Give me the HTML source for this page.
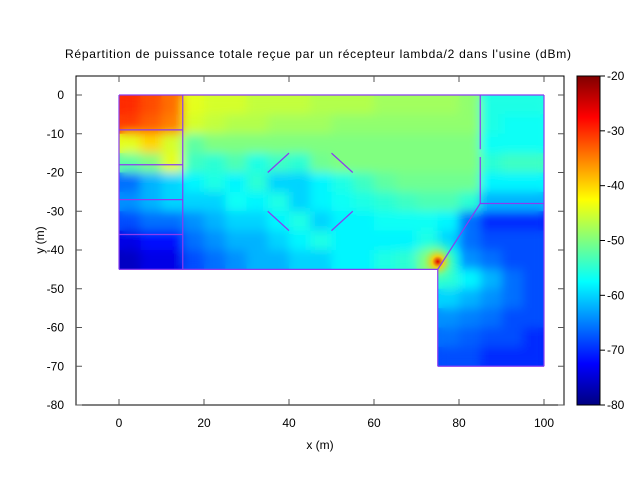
<!DOCTYPE html>
<html><head><meta charset="utf-8"><style>
body{margin:0;background:#fff;width:640px;height:480px;overflow:hidden;font-family:"Liberation Sans",sans-serif}
</style></head><body>
<svg id="chart" width="640" height="480" viewBox="0 0 640 480" xmlns="http://www.w3.org/2000/svg" font-family="Liberation Sans, sans-serif">
<defs>
<filter id="blur" x="-5%" y="-5%" width="110%" height="110%"><feGaussianBlur stdDeviation="5"/></filter>
<clipPath id="floor"><polygon id="floorPoly" points=""/></clipPath>
<linearGradient id="jet" x1="0" y1="1" x2="0" y2="0">
<stop offset="0" stop-color="#000080"/><stop offset="0.125" stop-color="#0000ff"/><stop offset="0.375" stop-color="#00ffff"/><stop offset="0.625" stop-color="#ffff00"/><stop offset="0.875" stop-color="#ff0000"/><stop offset="1" stop-color="#800000"/>
</linearGradient>
<radialGradient id="hot"><stop offset="0" stop-color="#e00000" stop-opacity="1"/><stop offset="0.2" stop-color="#ffcc00" stop-opacity="0.9"/><stop offset="0.5" stop-color="#80ff80" stop-opacity="0.5"/><stop offset="1" stop-color="#00ffff" stop-opacity="0"/></radialGradient>
</defs>
<text x="318" y="58" font-size="12" text-anchor="middle" textLength="506" lengthAdjust="spacing">Répartition de puissance totale reçue par un récepteur lambda/2 dans l'usine (dBm)</text>
<g id="cells-sharp" clip-path="url(#floor)"></g>
<g clip-path="url(#floor)"><g id="cells-blur" filter="url(#blur)"></g><circle id="hotspot" r="28" fill="url(#hot)"/></g>
<g id="walls" stroke="#8a3cf0" stroke-width="1.2" fill="none"></g>
<rect x="76" y="76" width="488" height="329" fill="none" stroke="#000" stroke-width="1"/>
<g id="axes" font-size="12"></g>
<text x="320" y="449" font-size="12" text-anchor="middle">x (m)</text>
<text transform="translate(44,240) rotate(-90)" font-size="12" text-anchor="middle">y (m)</text>
<rect x="577" y="76" width="23" height="329" fill="url(#jet)" stroke="#000" stroke-width="1"/>
<g id="cbar" font-size="12"></g>
</svg>
<script>
const xTicks=[0,20,40,60,80,100];
const yTicks=[0,-10,-20,-30,-40,-50,-60,-70,-80];
const cbTicks=[-20,-30,-40,-50,-60,-70,-80];
const cbMin=-80, cbMax=-20;
const gridStep=5;
const gridRows=[
[-30,-32,-34,-44,-45,-45,-46,-46,-46,-47,-47,-47,-48,-48,-48,-48,-49,-56,-56,-56],
[-31,-33,-35,-45,-46,-47,-47,-48,-48,-48,-49,-49,-49,-49,-49,-49,-49,-56,-57,-57],
[-44,-40,-45,-52,-50,-50,-50,-50,-50,-50,-50,-50,-50,-50,-50,-50,-50,-57,-57,-57],
[-52,-50,-44,-54,-55,-53,-56,-54,-55,-51,-50,-50,-50,-50,-50,-50,-50,-55,-54,-54],
[-66,-62,-60,-58,-56,-58,-55,-60,-60,-58,-56,-54,-52,-51,-51,-51,-51,-58,-58,-58],
[-64,-62,-60,-60,-60,-57,-58,-56,-60,-58,-57,-56,-55,-54,-53,-53,-55,-62,-62,-62],
[-68,-66,-66,-64,-62,-60,-60,-58,-56,-60,-58,-58,-57,-57,-57,-58,-66,-70,-70,-70],
[-74,-72,-72,-66,-64,-62,-62,-60,-58,-56,-58,-58,-58,-58,-56,-60,-66,-68,-68,-68],
[-76,-74,-74,-68,-66,-64,-62,-62,-60,-60,-58,-58,-56,-55,-50,-58,-64,-66,-68,-68],
[null,null,null,null,null,null,null,null,null,null,null,null,null,null,null,-55,-58,-62,-66,-68],
[null,null,null,null,null,null,null,null,null,null,null,null,null,null,null,-60,-62,-64,-66,-68],
[null,null,null,null,null,null,null,null,null,null,null,null,null,null,null,-64,-65,-66,-68,-68],
[null,null,null,null,null,null,null,null,null,null,null,null,null,null,null,-66,-67,-68,-68,-70],
[null,null,null,null,null,null,null,null,null,null,null,null,null,null,null,-68,-68,-70,-70,-70]];
const outline=[[0,0],[100,0],[100,-70],[75,-70],[75,-45],[0,-45]];
const wallSegs=[[0,0,100,0],[100,0,100,-70],[100,-70,75,-70],[75,-70,75,-45],[75,-45,0,-45],[0,-45,0,0],
[15,0,15,-45],[85,0,85,-14],[85,-16,85,-28],[85,-28,75,-45],[85,-28,100,-28],
[0,-9,15,-9],[0,-18,15,-18],[0,-27,15,-27],[0,-36,15,-36],
[35,-20,40,-15],[50,-15,55,-20],[35,-30,40,-35],[50,-35,55,-30]];
const hotspotPos=[75,-43];

const X=v=>119+v*4.25, Y=v=>95-v*3.875;
const NS="http://www.w3.org/2000/svg";
function mk(t,a,p){const e=document.createElementNS(NS,t);for(const k in a)e.setAttribute(k,a[k]);p.appendChild(e);return e;}
function jet(v){let t=(v-cbMin)/(cbMax-cbMin);t=Math.max(0,Math.min(1,t));
 const c=x=>Math.round(255*Math.max(0,Math.min(1,1.5-Math.abs(x))));
 return `rgb(${c(4*t-3)},${c(4*t-2)},${c(4*t-1)})`;}
document.getElementById('floorPoly').setAttribute('points',outline.map(p=>X(p[0])+','+Y(p[1])).join(' '));
const sharp=document.getElementById('cells-sharp'), blur=document.getElementById('cells-blur');
gridRows.forEach((row,ri)=>row.forEach((v,ci)=>{ if(v===null)return;
 const a={x:X(ci*gridStep),y:Y(-ri*gridStep),width:gridStep*4.25+0.5,height:gridStep*3.875+0.5,fill:jet(v)};
 const r1=mk('rect',a,sharp);
 
 
 const r2=mk('rect',a,blur);
 
 
}));
const hs=document.getElementById('hotspot');hs.setAttribute('cx',X(hotspotPos[0]));hs.setAttribute('cy',Y(hotspotPos[1]));
const walls=document.getElementById('walls');
wallSegs.forEach(s=>{const l=mk('line',{x1:X(s[0]),y1:Y(s[1]),x2:X(s[2]),y2:Y(s[3])},walls);
 
 });
const ax=document.getElementById('axes');
xTicks.forEach(t=>{const x=X(t);
 const a=mk('line',{x1:x,y1:405,x2:x,y2:399,stroke:'#555'},ax);
 const b=mk('line',{x1:x,y1:76,x2:x,y2:82,stroke:'#555'},ax);
 const tx=mk('text',{x:x,y:427,'text-anchor':'middle'},ax);tx.textContent=t;});
yTicks.forEach(t=>{const y=Y(t);
 const a=mk('line',{x1:76,y1:y,x2:82,y2:y,stroke:'#555'},ax);
 const b=mk('line',{x1:564,y1:y,x2:558,y2:y,stroke:'#555'},ax);
 const tx=mk('text',{x:64,y:y+4,'text-anchor':'end'},ax);tx.textContent=t;});
const cb=document.getElementById('cbar');
cbTicks.forEach(t=>{const y=405-(t-cbMin)/(cbMax-cbMin)*329;
 const a=mk('line',{x1:600,y1:y,x2:605,y2:y,stroke:'#000'},cb);
 const tx=mk('text',{x:607,y:y+4},cb);tx.textContent=t;});
</script>
</body></html>
